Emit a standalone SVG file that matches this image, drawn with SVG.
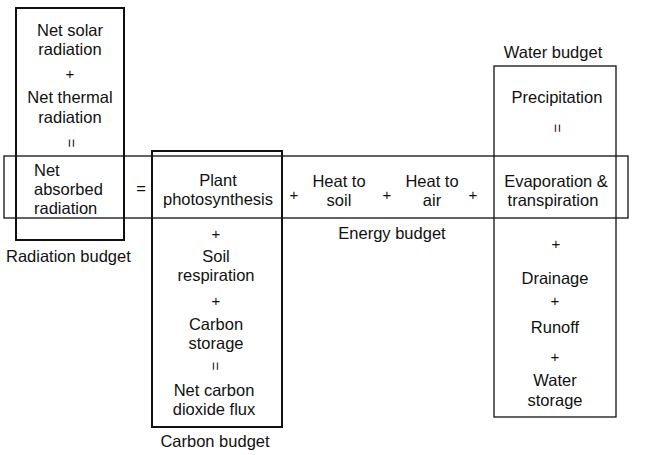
<svg xmlns="http://www.w3.org/2000/svg" width="658" height="455" viewBox="0 0 658 455">
<style>
text{font-family:"Liberation Sans",Arial,sans-serif;font-size:16.5px;fill:#111;text-anchor:middle}
.l{text-anchor:start}
.s{font-size:15px}
rect{fill:none;stroke:#111}
.thick{stroke-width:2}
.thin{stroke-width:1.3}
</style>
<rect width="658" height="455" fill="#fff" style="fill:#fff;stroke:none"/>
<g id="energy">
<rect class="thin" x="4" y="156" width="624" height="62"/>
<text x="141" y="194">=</text>
<text class="s" x="294" y="200">+</text>
<text x="339" y="187">Heat to</text>
<text x="339" y="206">soil</text>
<text class="s" x="387" y="200">+</text>
<text x="432" y="187">Heat to</text>
<text x="432" y="206">air</text>
<text class="s" x="473" y="200">+</text>
<text x="392" y="239">Energy budget</text>
</g>
<g id="radiation">
<rect class="thick" x="16" y="8" width="108" height="232"/>
<text x="70" y="36">Net solar</text>
<text x="70" y="55">radiation</text>
<text class="s" x="70" y="79">+</text>
<text x="70" y="103">Net thermal</text>
<text x="70" y="123">radiation</text>
<text class="s" transform="translate(70,143) rotate(90)" y="4">=</text>
<text class="l" x="34" y="176">Net</text>
<text class="l" x="34" y="195">absorbed</text>
<text class="l" x="34" y="214">radiation</text>
<text class="l" x="6" y="262">Radiation budget</text>
</g>
<g id="carbon">
<rect class="thick" x="152" y="151" width="130" height="276"/>
<text x="218" y="186">Plant</text>
<text x="218" y="205">photosynthesis</text>
<text class="s" x="216" y="239">+</text>
<text x="216" y="262">Soil</text>
<text x="216" y="281">respiration</text>
<text class="s" x="216" y="306">+</text>
<text x="216" y="330">Carbon</text>
<text x="216" y="349">storage</text>
<text class="s" transform="translate(214,366) rotate(90)" y="4">=</text>
<text x="214" y="396">Net carbon</text>
<text x="214" y="415">dioxide flux</text>
<text x="215" y="447">Carbon budget</text>
</g>
<g id="water">
<rect class="thin" x="494" y="66" width="122" height="351"/>
<text x="553" y="58">Water budget</text>
<text x="557" y="103">Precipitation</text>
<text class="s" transform="translate(556,128) rotate(90)" y="4">=</text>
<text x="556" y="187">Evaporation &amp;</text>
<text x="553" y="206">transpiration</text>
<text class="s" x="556" y="249">+</text>
<text x="555" y="284">Drainage</text>
<text class="s" x="555" y="306">+</text>
<text x="555" y="333">Runoff</text>
<text class="s" x="555" y="362">+</text>
<text x="555" y="386">Water</text>
<text x="555" y="406">storage</text>
</g>
<g id="connectors"></g>
</svg>
